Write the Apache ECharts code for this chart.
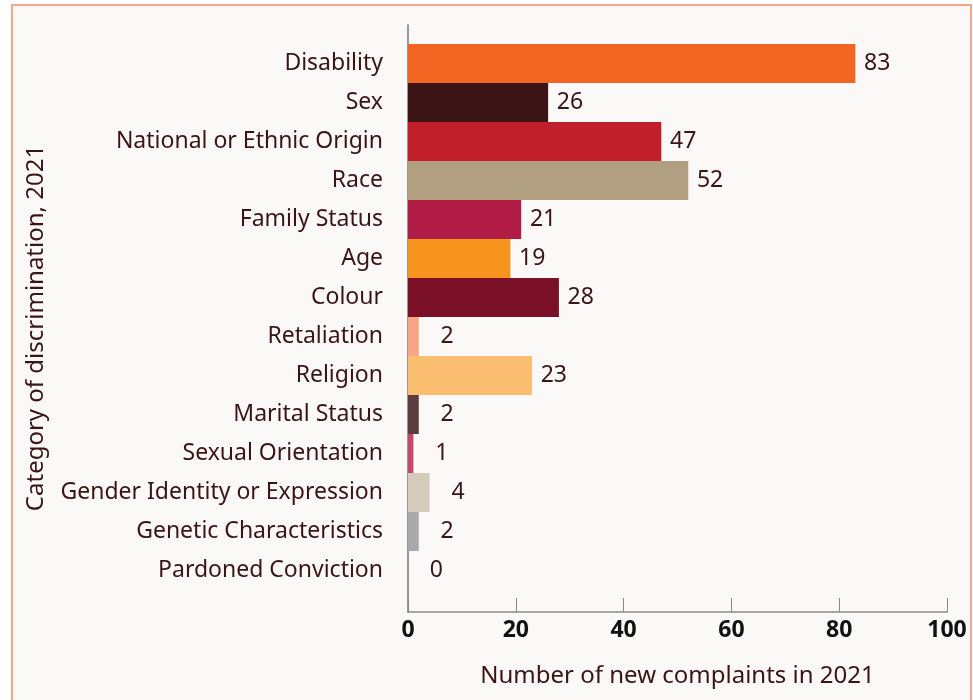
<!DOCTYPE html>
<html>
<head>
<meta charset="utf-8">
<script src="https://cdn.jsdelivr.net/npm/echarts@6/dist/echarts.min.js"></script>
<style>
  html, body { margin: 0; padding: 0; background: #ffffff; }
  #main { width: 973px; height: 700px; }
</style>
</head>
<body>
<div id="main"></div>
<script>
// categories, top to bottom as in the picture
var categories = [
  'Disability', 'Sex', 'National or Ethnic Origin', 'Race', 'Family Status',
  'Age', 'Colour', 'Retaliation', 'Religion', 'Marital Status',
  'Sexual Orientation', 'Gender Identity or Expression',
  'Genetic Characteristics', 'Pardoned Conviction'
];
var complaints = [83, 26, 47, 52, 21, 19, 28, 2, 23, 2, 1, 4, 2, 0];
var barColors = [
  '#f26522', '#3b1416', '#c1202a', '#b0a081', '#b01c45',
  '#f7941d', '#7a1128', '#f7a584', '#fbbd6f', '#5e3b3f',
  '#c5476b', '#d5cbbb', '#a7a9ac', '#a7a9ac'
];
var xTicks = [0, 20, 40, 60, 80, 100];

var textColor = '#3b1416';
var font = 'Noto Sans';

var myChart = echarts.init(document.getElementById('main'), null, {renderer: 'canvas'});

var option = {
  backgroundColor: '#ffffff',
  animation: false,
  graphic: [
    {
      type: 'rect',
      z: -10,
      shape: {x: 12, y: 5, width: 959, height: 720},
      style: {fill: '#faf9f7', stroke: '#f6a585', lineWidth: 2}
    },
    {
      type: 'text',
      x: 36,
      y: 328,
      rotation: Math.PI / 2,
      style: {
        text: 'Category of discrimination, 2021',
        fill: textColor,
        font: '24px "Noto Sans"',
        align: 'center',
        verticalAlign: 'middle'
      }
    }
  ],
  grid: [
    {left: 408, right: 26, top: 44, bottom: 110},
    {left: 408, width: 1, top: 25, bottom: 88}
  ],
  xAxis: [
    {
      gridIndex: 0,
      type: 'value',
      min: xTicks[0],
      max: xTicks[xTicks.length - 1],
      interval: 20,
      offset: 22,
      name: 'Number of new complaints in 2021',
      nameLocation: 'middle',
      nameGap: 52,
      nameTextStyle: {color: textColor, fontSize: 24, fontFamily: font, verticalAlign: 'top'},
      axisLine: {show: true, lineStyle: {color: '#8a8a8a', width: 1.5}},
      axisTick: {show: true, inside: true, length: 14, lineStyle: {color: '#8a8a8a'}},
      splitLine: {show: false},
      axisLabel: {color: '#111', fontSize: 23, fontWeight: 'bold', fontFamily: font, margin: 7}
    },
    {gridIndex: 1, type: 'value', show: false}
  ],
  yAxis: [
    {
      gridIndex: 0,
      type: 'category',
      inverse: true,
      data: categories,
      axisLine: {show: false},
      axisTick: {show: false},
      axisLabel: {color: textColor, fontSize: 23, fontFamily: font, margin: 25}
    },
    {
      gridIndex: 1,
      type: 'category',
      data: [''],
      axisLine: {show: true, lineStyle: {color: '#777', width: 1.5}},
      axisTick: {show: false},
      axisLabel: {show: false}
    }
  ],
  series: [{
    name: 'Complaints',
    type: 'bar',
    xAxisIndex: 0,
    yAxisIndex: 0,
    barCategoryGap: 0,
    data: complaints.map(function (v, i) {
      return {value: v, itemStyle: {color: barColors[i]}};
    }),
    label: {
      show: true,
      position: 'right',
      distance: 35,
      align: 'right',
      color: textColor,
      fontSize: 23,
      fontFamily: font
    }
  }]
};
myChart.setOption(option);
</script>
</body>
</html>
